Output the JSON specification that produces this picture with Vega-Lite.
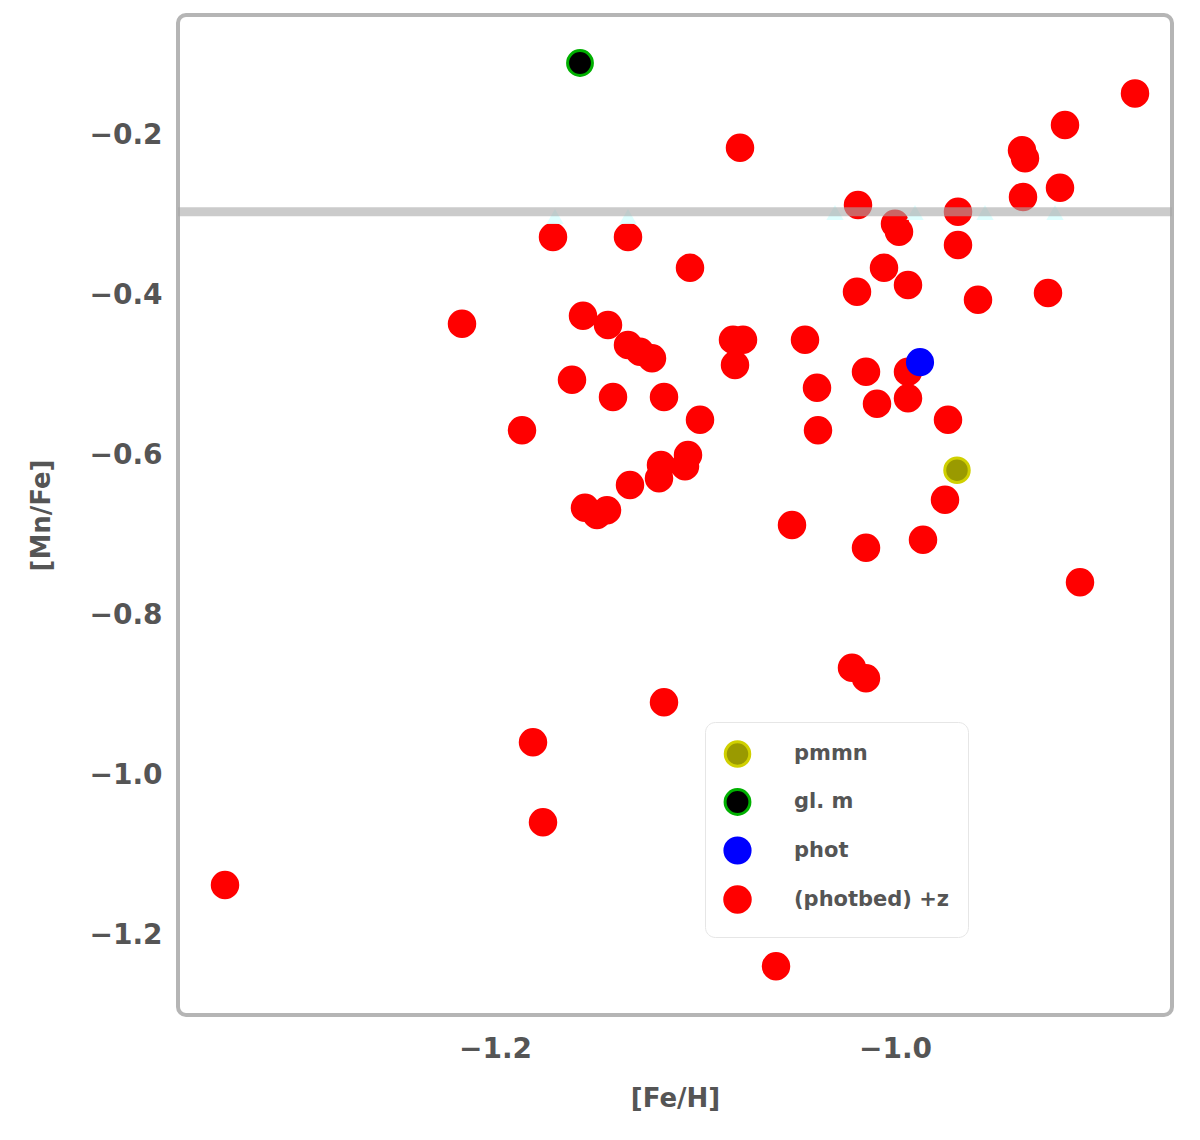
{
  "$schema": "https://vega.github.io/schema/vega-lite/v6.json",
  "width": 994,
  "height": 1000,
  "autosize": {"type": "none"},
  "padding": {"left": 178, "top": 15, "right": 28, "bottom": 125},
  "background": "white",
  "config": {
    "view": {"stroke": "#b5b5b5", "strokeWidth": 4, "cornerRadius": 8},
    "axis": {"grid": false, "ticks": false, "domain": false, "labelFont": "DejaVu Sans", "labelFontSize": 28, "labelColor": "#555", "labelFontWeight": "bold", "titleFont": "DejaVu Sans", "titleFontSize": 26, "titleColor": "#555", "titleFontWeight": "bold"}
  },
  "datasets": {
    "pts": [
      {"x": -0.88, "y": -0.148, "g": "(photbed) +z"},
      {"x": -0.915, "y": -0.1875, "g": "(photbed) +z"},
      {"x": -0.9365, "y": -0.219, "g": "(photbed) +z"},
      {"x": -0.935, "y": -0.229, "g": "(photbed) +z"},
      {"x": -1.0775, "y": -0.216, "g": "(photbed) +z"},
      {"x": -0.9175, "y": -0.266, "g": "(photbed) +z"},
      {"x": -0.936, "y": -0.2775, "g": "(photbed) +z"},
      {"x": -1.0185, "y": -0.2875, "g": "(photbed) +z"},
      {"x": -0.9685, "y": -0.296, "g": "(photbed) +z"},
      {"x": -1.0, "y": -0.311, "g": "(photbed) +z"},
      {"x": -0.998, "y": -0.321, "g": "(photbed) +z"},
      {"x": -1.171, "y": -0.3275, "g": "(photbed) +z"},
      {"x": -1.1335, "y": -0.3275, "g": "(photbed) +z"},
      {"x": -0.9685, "y": -0.3375, "g": "(photbed) +z"},
      {"x": -1.1025, "y": -0.366, "g": "(photbed) +z"},
      {"x": -1.0055, "y": -0.366, "g": "(photbed) +z"},
      {"x": -0.9935, "y": -0.3875, "g": "(photbed) +z"},
      {"x": -1.019, "y": -0.396, "g": "(photbed) +z"},
      {"x": -0.9235, "y": -0.3975, "g": "(photbed) +z"},
      {"x": -0.9585, "y": -0.406, "g": "(photbed) +z"},
      {"x": -1.2165, "y": -0.436, "g": "(photbed) +z"},
      {"x": -1.156, "y": -0.426, "g": "(photbed) +z"},
      {"x": -1.1435, "y": -0.4375, "g": "(photbed) +z"},
      {"x": -1.1335, "y": -0.4625, "g": "(photbed) +z"},
      {"x": -1.1275, "y": -0.471, "g": "(photbed) +z"},
      {"x": -1.1215, "y": -0.479, "g": "(photbed) +z"},
      {"x": -1.081, "y": -0.456, "g": "(photbed) +z"},
      {"x": -1.076, "y": -0.456, "g": "(photbed) +z"},
      {"x": -1.045, "y": -0.456, "g": "(photbed) +z"},
      {"x": -1.08, "y": -0.4875, "g": "(photbed) +z"},
      {"x": -1.0145, "y": -0.496, "g": "(photbed) +z"},
      {"x": -0.9935, "y": -0.496, "g": "(photbed) +z"},
      {"x": -1.1615, "y": -0.506, "g": "(photbed) +z"},
      {"x": -1.039, "y": -0.516, "g": "(photbed) +z"},
      {"x": -1.141, "y": -0.5275, "g": "(photbed) +z"},
      {"x": -1.1155, "y": -0.5275, "g": "(photbed) +z"},
      {"x": -0.9935, "y": -0.529, "g": "(photbed) +z"},
      {"x": -1.009, "y": -0.536, "g": "(photbed) +z"},
      {"x": -1.0975, "y": -0.556, "g": "(photbed) +z"},
      {"x": -0.9735, "y": -0.556, "g": "(photbed) +z"},
      {"x": -1.1865, "y": -0.569, "g": "(photbed) +z"},
      {"x": -1.0385, "y": -0.569, "g": "(photbed) +z"},
      {"x": -1.1035, "y": -0.6, "g": "(photbed) +z"},
      {"x": -1.105, "y": -0.614, "g": "(photbed) +z"},
      {"x": -1.117, "y": -0.6125, "g": "(photbed) +z"},
      {"x": -1.118, "y": -0.629, "g": "(photbed) +z"},
      {"x": -1.1325, "y": -0.6375, "g": "(photbed) +z"},
      {"x": -1.155, "y": -0.666, "g": "(photbed) +z"},
      {"x": -1.149, "y": -0.675, "g": "(photbed) +z"},
      {"x": -1.144, "y": -0.669, "g": "(photbed) +z"},
      {"x": -0.975, "y": -0.656, "g": "(photbed) +z"},
      {"x": -1.0515, "y": -0.6875, "g": "(photbed) +z"},
      {"x": -0.986, "y": -0.706, "g": "(photbed) +z"},
      {"x": -1.0145, "y": -0.716, "g": "(photbed) +z"},
      {"x": -0.9075, "y": -0.759, "g": "(photbed) +z"},
      {"x": -1.0215, "y": -0.866, "g": "(photbed) +z"},
      {"x": -1.0145, "y": -0.879, "g": "(photbed) +z"},
      {"x": -1.1155, "y": -0.909, "g": "(photbed) +z"},
      {"x": -1.181, "y": -0.959, "g": "(photbed) +z"},
      {"x": -1.176, "y": -1.059, "g": "(photbed) +z"},
      {"x": -1.335, "y": -1.1375, "g": "(photbed) +z"},
      {"x": -1.0595, "y": -1.239, "g": "(photbed) +z"},
      {"x": -1.1575, "y": -0.11, "g": "gl. m"},
      {"x": -0.9875, "y": -0.484, "g": "phot"},
      {"x": -0.969, "y": -0.619, "g": "pmmn"}
    ],
    "cyan": [
      {"x": -1.17, "y": -0.302},
      {"x": -1.1335, "y": -0.302},
      {"x": -1.03, "y": -0.297},
      {"x": -0.99, "y": -0.297},
      {"x": -0.955, "y": -0.297},
      {"x": -0.92, "y": -0.297}
    ],
    "line": [{"y": -0.296}]
  },
  "layer": [
    {
      "data": {"name": "pts"},
      "mark": {"type": "point", "shape": "circle", "filled": true, "opacity": 1, "strokeWidth": 3},
      "encoding": {
        "x": {"field": "x", "type": "quantitative", "scale": {"domain": [-1.3585, -0.8615], "nice": false, "zero": false}, "axis": {"values": [-1.2, -1.0], "format": ".1f", "title": "[Fe/H]", "labelPadding": 20, "titlePadding": 22}},
        "y": {"field": "y", "type": "quantitative", "scale": {"domain": [-1.3, -0.05], "nice": false, "zero": false}, "axis": {"values": [-0.2, -0.4, -0.6, -0.8, -1.0, -1.2], "format": ".1f", "title": "[Mn/Fe]", "labelPadding": 16, "titlePadding": 34}},
        "fill": {"field": "g", "type": "nominal", "scale": {"domain": ["pmmn", "gl. m", "phot", "(photbed) +z"], "range": ["#9a9a00", "#000000", "#0000ff", "#ff0000"]}, "legend": {"title": null, "orient": "none", "legendX": 527, "legendY": 707, "padding": 18, "fillColor": "white", "strokeColor": "#e6e6e6", "cornerRadius": 10, "labelFontSize": 21, "labelFont": "DejaVu Sans", "labelColor": "#555", "labelFontWeight": "bold", "rowPadding": 10, "labelOffset": 42, "symbolStrokeWidth": 3}},
        "stroke": {"field": "g", "type": "nominal", "scale": {"domain": ["pmmn", "gl. m", "phot", "(photbed) +z"], "range": ["#d0d000", "#00b000", "#0000ff", "#ff0000"]}, "legend": {"title": null, "orient": "none", "legendX": 527, "legendY": 707}},
        "size": {"field": "g", "type": "nominal", "scale": {"domain": ["pmmn", "gl. m", "phot", "(photbed) +z"], "range": [600, 650, 650, 200]}, "legend": {"title": null, "orient": "none", "legendX": 527, "legendY": 707}}
      }
    },
    {
      "data": {"name": "cyan"},
      "mark": {"type": "point", "shape": "triangle-up", "filled": true, "color": "#dcffff", "size": 300, "opacity": 0.9},
      "encoding": {
        "x": {"field": "x", "type": "quantitative"},
        "y": {"field": "y", "type": "quantitative"}
      }
    },
    {
      "data": {"name": "line"},
      "mark": {"type": "rule", "color": "#a8a8a8", "strokeWidth": 9, "opacity": 0.6},
      "encoding": {
        "y": {"field": "y", "type": "quantitative"}
      }
    }
  ]
}
